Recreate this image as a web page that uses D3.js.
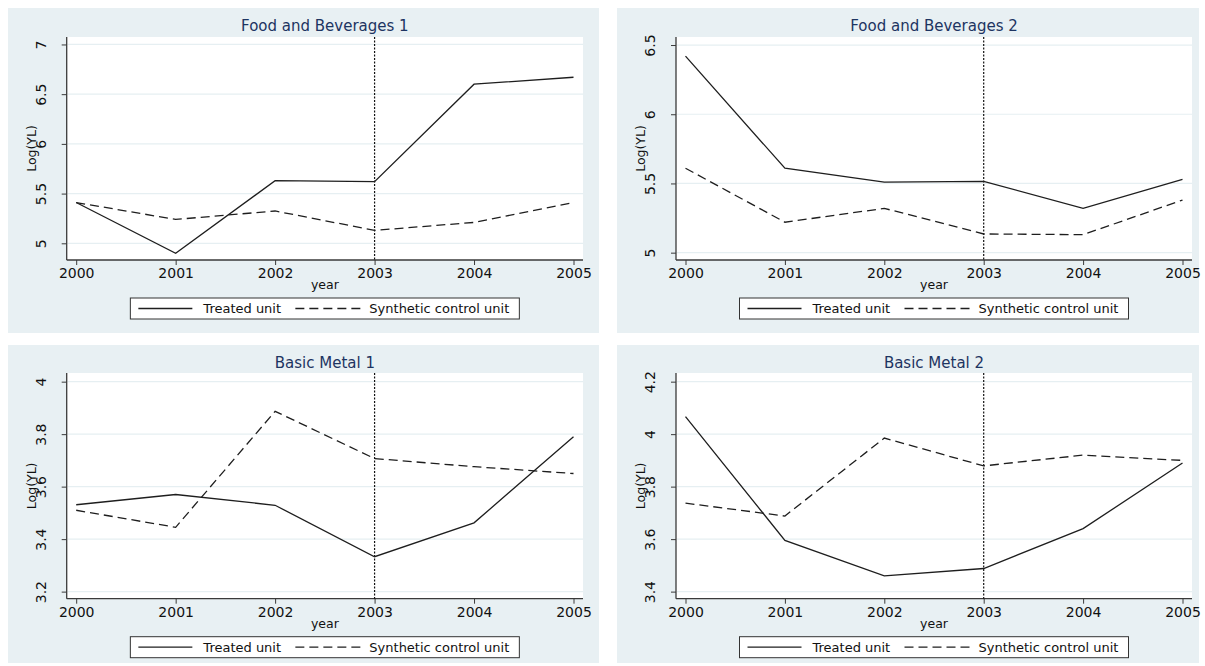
<!DOCTYPE html>
<html>
<head>
<meta charset="utf-8">
<script src="https://cdn.jsdelivr.net/npm/d3@7"></script>
<style>
  html, body { margin: 0; padding: 0; background: #ffffff; }
  svg { display: block; }
  text { font-family: "DejaVu Sans", Verdana, sans-serif; }
</style>
</head>
<body>
<svg id="chart" width="1205" height="666"></svg>
<script>
// Years on the x axis and the year the treatment starts
const years = [2000, 2001, 2002, 2003, 2004, 2005];
const treatmentYear = 2003;

// Log(YL) series, one pair (treated / synthetic control) per industry
const fb1Treated   = [5.41, 4.90, 5.63, 5.62, 6.60, 6.67];
const fb1Synthetic = [5.41, 5.24, 5.325, 5.13, 5.21, 5.41];
const fb2Treated   = [6.42, 5.61, 5.51, 5.515, 5.32, 5.53];
const fb2Synthetic = [5.61, 5.22, 5.32, 5.135, 5.13, 5.38];
const bm1Treated   = [3.531, 3.57, 3.529, 3.333, 3.462, 3.79];
const bm1Synthetic = [3.51, 3.445, 3.887, 3.707, 3.676, 3.65];
const bm2Treated   = [4.067, 3.595, 3.46, 3.488, 3.64, 3.89];
const bm2Synthetic = [3.737, 3.688, 3.985, 3.879, 3.92, 3.90];

// y-axis tick values for each panel
const fb1Ticks = [5, 5.5, 6, 6.5, 7];
const fb2Ticks = [5, 5.5, 6, 6.5];
const bm1Ticks = [3.2, 3.4, 3.6, 3.8, 4];
const bm2Ticks = [3.4, 3.6, 3.8, 4, 4.2];

const panelTitles = ["Food and Beverages 1", "Food and Beverages 2", "Basic Metal 1", "Basic Metal 2"];
const legendLabels = ["Treated unit", "Synthetic control unit"];
const xTitle = "year";
const yTitle = "Log(YL)";

// Panel layout: background box, plot region and y extent of each graph
const panels = [
  { title: panelTitles[0], treated: fb1Treated, synthetic: fb1Synthetic, ticks: fb1Ticks,
    yDomain: [4.832, 7.075], box: { x: 8, y: 8, w: 591, h: 325 },
    plot: { x0: 66.7, x1: 583, y0: 37, y1: 260 } },
  { title: panelTitles[1], treated: fb2Treated, synthetic: fb2Synthetic, ticks: fb2Ticks,
    yDomain: [4.947, 6.558], box: { x: 617, y: 8, w: 582, h: 325 },
    plot: { x0: 676, x1: 1192, y0: 37, y1: 260 } },
  { title: panelTitles[2], treated: bm1Treated, synthetic: bm1Synthetic, ticks: bm1Ticks,
    yDomain: [3.173, 4.033], box: { x: 8, y: 345, w: 591, h: 318 },
    plot: { x0: 66.7, x1: 583, y0: 373, y1: 598.7 } },
  { title: panelTitles[3], treated: bm2Treated, synthetic: bm2Synthetic, ticks: bm2Ticks,
    yDomain: [3.373, 4.233], box: { x: 617, y: 345, w: 582, h: 318 },
    plot: { x0: 676, x1: 1192, y0: 373, y1: 598.7 } }
];

const svg = d3.select("#chart");
const bgColor = "#e8f0f3";
const gridColor = "#e6eff2";
const axisColor = "#3a3a3a";
const lineColor = "#1e1e1e";
const titleColor = "#1d3461";
const dashPattern = "9,5";

panels.forEach(p => {
  const g = svg.append("g");
  const { box, plot } = p;

  // graph region
  g.append("rect")
    .attr("x", box.x).attr("y", box.y)
    .attr("width", box.w).attr("height", box.h)
    .attr("fill", bgColor);

  // plot region
  g.append("rect")
    .attr("x", plot.x0).attr("y", plot.y0)
    .attr("width", plot.x1 - plot.x0).attr("height", plot.y1 - plot.y0)
    .attr("fill", "#ffffff");

  const x = d3.scaleLinear().domain(d3.extent(years)).range([plot.x0 + 9.5, plot.x1 - 9.5]);
  const y = d3.scaleLinear().domain(p.yDomain).range([plot.y1, plot.y0]);

  // horizontal grid lines
  g.append("g")
    .selectAll("line")
    .data(p.ticks)
    .join("line")
    .attr("x1", plot.x0 + 1).attr("x2", plot.x1)
    .attr("y1", d => y(d)).attr("y2", d => y(d))
    .attr("stroke", gridColor).attr("stroke-width", 1.2);

  // y axis (labels rotated to read bottom-to-top)
  const yAxis = g.append("g")
    .attr("transform", `translate(${plot.x0},0)`)
    .call(d3.axisLeft(y).tickValues(p.ticks).tickSize(5).tickFormat(d => String(d)));
  yAxis.select(".domain").attr("d", `M0,${plot.y0}V${plot.y1}`)
    .attr("stroke", axisColor).attr("stroke-width", 1.3);
  yAxis.selectAll("line").attr("stroke", axisColor);
  yAxis.selectAll("text")
    .attr("font-size", 14).attr("fill", "#111")
    .attr("x", 0).attr("y", 0).attr("dy", 0)
    .attr("transform", "translate(-21,0) rotate(-90)")
    .attr("text-anchor", "middle");

  // x axis
  const xAxis = g.append("g")
    .attr("transform", `translate(0,${plot.y1})`)
    .call(d3.axisBottom(x).tickValues(years).tickSize(5).tickPadding(3).tickFormat(d3.format("d")));
  xAxis.select(".domain").attr("d", `M${plot.x0},0H${plot.x1}`)
    .attr("stroke", axisColor).attr("stroke-width", 1.3);
  xAxis.selectAll("line").attr("stroke", axisColor);
  xAxis.selectAll("text").attr("font-size", 14).attr("fill", "#111");

  // axis titles
  const cx = (plot.x0 + plot.x1) / 2;
  g.append("text")
    .attr("x", cx).attr("y", plot.y1 + 29)
    .attr("text-anchor", "middle").attr("font-size", 12.5).attr("fill", "#111")
    .text(xTitle);
  const cy = (plot.y0 + plot.y1) / 2;
  g.append("text")
    .attr("transform", `translate(${box.x + 28},${cy}) rotate(-90)`)
    .attr("text-anchor", "middle").attr("font-size", 12.5).attr("fill", "#111")
    .text(yTitle);

  // panel title
  g.append("text")
    .attr("x", cx).attr("y", box.y + 23)
    .attr("text-anchor", "middle").attr("font-size", 15).attr("fill", titleColor)
    .text(p.title);

  // treatment year marker
  g.append("line")
    .attr("x1", x(treatmentYear)).attr("x2", x(treatmentYear))
    .attr("y1", plot.y0).attr("y2", plot.y1)
    .attr("stroke", "#111").attr("stroke-width", 1.2)
    .attr("stroke-dasharray", "2,1.5");

  // series lines
  const line = d3.line().x((d, i) => x(years[i])).y(d => y(d));
  g.append("path").datum(p.synthetic)
    .attr("d", line).attr("fill", "none")
    .attr("stroke", lineColor).attr("stroke-width", 1.3)
    .attr("stroke-dasharray", dashPattern);
  g.append("path").datum(p.treated)
    .attr("d", line).attr("fill", "none")
    .attr("stroke", lineColor).attr("stroke-width", 1.3);

  // legend
  const lw = 389, lh = 21;
  const lx = cx - lw / 2, ly = plot.y1 + 38;
  const lg = g.append("g").attr("transform", `translate(${lx},${ly})`);
  lg.append("rect").attr("width", lw).attr("height", lh)
    .attr("fill", "#ffffff").attr("stroke", "#333").attr("stroke-width", 1);
  const my = lh / 2;
  lg.append("line").attr("x1", 8).attr("x2", 62).attr("y1", my).attr("y2", my)
    .attr("stroke", lineColor).attr("stroke-width", 1.3);
  lg.append("text").attr("x", 73).attr("y", my + 4.5)
    .attr("font-size", 13).attr("fill", "#111").text(legendLabels[0]);
  lg.append("line").attr("x1", 165).attr("x2", 231).attr("y1", my).attr("y2", my)
    .attr("stroke", lineColor).attr("stroke-width", 1.3)
    .attr("stroke-dasharray", dashPattern);
  lg.append("text").attr("x", 239).attr("y", my + 4.5)
    .attr("font-size", 13).attr("fill", "#111").text(legendLabels[1]);
});
</script>
</body>
</html>
